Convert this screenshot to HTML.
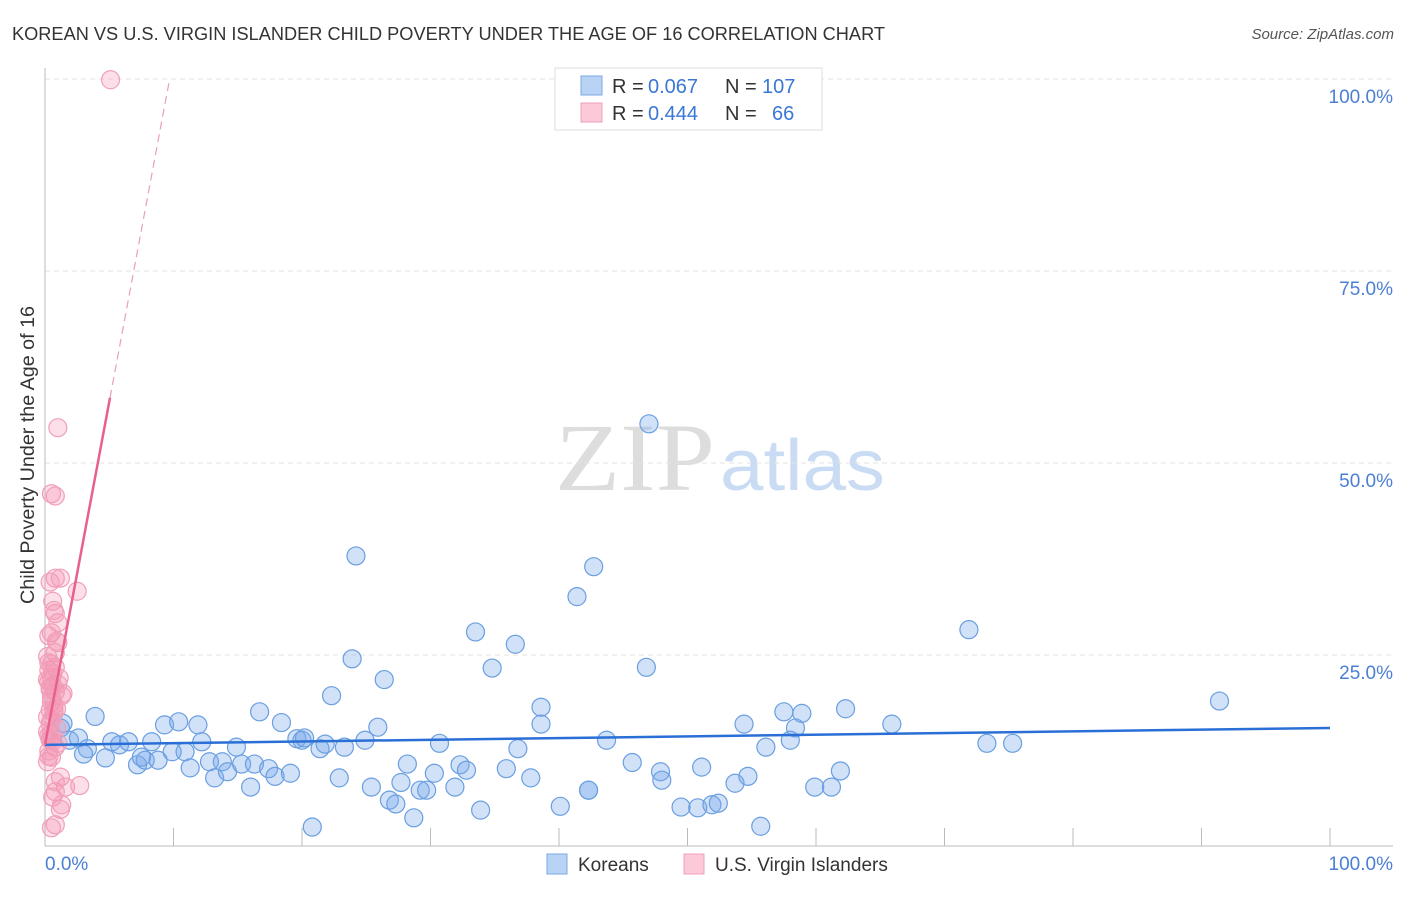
<!DOCTYPE html>
<html><head><meta charset="utf-8"><style>
body{margin:0;background:#fff;font-family:"Liberation Sans",sans-serif}
</style></head><body>
<svg width="1406" height="892" xmlns="http://www.w3.org/2000/svg">
<text x="12" y="40" font-size="18" fill="#333" textLength="873" lengthAdjust="spacingAndGlyphs">KOREAN VS U.S. VIRGIN ISLANDER CHILD POVERTY UNDER THE AGE OF 16 CORRELATION CHART</text>
<text x="1394" y="39" font-size="15" fill="#555" font-style="italic" text-anchor="end">Source: ZipAtlas.com</text>
<text x="555" y="490" font-size="96" fill="#ddd" font-family="Liberation Serif" textLength="160" lengthAdjust="spacingAndGlyphs">ZIP</text>
<text x="720" y="490" font-size="72" fill="#c9dcf3" textLength="165" lengthAdjust="spacingAndGlyphs">atlas</text>
<g id="grid"></g>
<line x1="45" y1="68" x2="45" y2="846" stroke="#bbb"/>
<line x1="45" y1="846" x2="1393" y2="846" stroke="#bbb"/>
<g id="ticks"></g>
<text transform="translate(34,455) rotate(-90)" font-size="19" fill="#333" text-anchor="middle" textLength="298" lengthAdjust="spacingAndGlyphs">Child Poverty Under the Age of 16</text>
<text x="45" y="870" font-size="19" fill="#4a7fd4">0.0%</text>
<text x="1393" y="870" font-size="19" fill="#4a7fd4" text-anchor="end">100.0%</text>
<g id="pts"></g>
<g id="lines"></g>
<g>
<rect x="555" y="68" width="267" height="62" fill="#fff" stroke="#ddd"/>
<rect x="581" y="76" width="21" height="19" fill="#b9d3f5" stroke="#7aa8e6"/>
<rect x="581" y="103" width="21" height="19" fill="#fcc9d8" stroke="#f0a0b8"/>
<text x="612" y="93" font-size="20" fill="#333">R =</text>
<text x="648" y="93" font-size="20" fill="#3a78d4">0.067</text>
<text x="725" y="93" font-size="20" fill="#333">N =</text>
<text x="762" y="93" font-size="20" fill="#3a78d4">107</text>
<text x="612" y="120" font-size="20" fill="#333">R =</text>
<text x="648" y="120" font-size="20" fill="#3a78d4">0.444</text>
<text x="725" y="120" font-size="20" fill="#333">N =</text>
<text x="772" y="120" font-size="20" fill="#3a78d4">66</text>
</g>
<g>
<rect x="547" y="854" width="20" height="20" fill="#b9d3f5" stroke="#7aa8e6"/>
<text x="578" y="871" font-size="19" fill="#333">Koreans</text>
<rect x="684" y="854" width="20" height="20" fill="#fcc9d8" stroke="#f0a0b8"/>
<text x="715" y="871" font-size="19" fill="#333">U.S. Virgin Islanders</text>
</g>
</svg>
<script>
const yTicks=[25,50,75,100];
const yTickLabels=["25.0%","50.0%","75.0%","100.0%"];
const xTicks=[10,20,30,40,50,60,70,80,90,100];
const blueX=[1.4,1.2,1.9,2.6,3.3,3.9,4.7,5.2,5.8,6.5,7.2,7.8,8.3,8.8,9.3,9.9,10.4,10.9,11.3,11.9,12.2,12.8,13.2,13.8,14.2,14.9,15.3,16.0,16.3,16.7,17.4,17.9,18.4,19.1,19.6,20.0,20.2,20.8,21.4,21.8,22.3,22.9,23.3,23.9,24.2,24.9,25.4,25.9,26.4,26.8,27.3,27.7,28.2,28.7,29.2,29.7,30.3,30.7,31.9,32.3,32.8,33.5,33.9,34.8,35.9,36.6,36.8,37.8,38.6,38.6,40.1,41.4,42.3,42.7,43.7,45.7,46.8,47.0,47.9,48.0,49.5,50.8,51.1,51.9,52.4,53.7,54.4,54.7,56.1,57.5,58.0,58.4,58.9,59.9,61.2,61.9,62.3,65.9,71.9,73.3,75.3,91.4,55.7,42.3,0.4,3.0,7.5];
const blueY=[16.1,15.5,13.9,14.2,12.8,17.0,11.6,13.7,13.3,13.7,10.7,11.3,13.7,11.3,15.9,12.4,16.3,12.4,10.3,15.9,13.7,11.1,9.0,11.1,9.8,13.0,10.8,7.8,10.8,17.6,10.2,9.2,16.2,9.6,14.1,13.9,14.2,2.6,12.8,13.4,19.7,9.0,13.0,24.5,37.9,13.9,7.8,15.6,21.8,6.1,5.6,8.4,10.8,3.8,7.4,7.4,9.6,13.5,7.8,10.7,10.0,28.0,4.8,23.3,10.2,26.4,12.8,9.0,18.2,16.0,5.3,32.6,7.4,36.5,13.9,11.0,23.4,55.1,9.8,8.7,5.2,5.1,10.4,5.5,5.7,8.3,16.0,9.2,13.0,17.6,13.9,15.5,17.4,7.8,7.8,9.9,18.0,16.0,28.3,13.5,13.5,19.0,2.7,7.4,14.0,12.1,11.7];
const pinkX=[1.0,0.5,0.8,0.8,1.2,2.5,0.8,1.0,0.5,1.0,0.8,0.8,0.5,0.4,0.8,0.5,0.2,1.3,0.4,0.5,1.0,0.8,0.5,0.2,1.2,1.6,0.8,1.3,1.2,0.8,2.7,5.1,0.6,0.3,0.3,0.6,0.9,0.2,0.4,0.7,1.1,0.3,0.5,0.9,0.3,0.6,0.2,0.4,0.7,0.5,0.3,1.0,0.6,0.4,0.2,0.9,0.7,0.3,0.5,0.8,0.4,0.6,1.4,0.3,0.7,0.5];
const pinkY=[54.6,46.0,45.7,35.0,35.0,33.3,30.4,29.2,27.9,26.6,25.3,23.4,22.1,20.8,20.2,18.9,16.9,19.7,16.1,14.8,13.5,13.0,11.7,11.1,9.1,7.8,7.2,5.5,4.9,2.9,8.0,99.9,32.0,24.0,21.5,21.0,18.0,15.0,14.0,17.5,22.0,23.0,19.5,15.5,12.5,6.5,21.8,20.5,18.5,16.5,14.5,21.2,13.8,17.8,24.8,26.8,30.8,27.5,2.5,8.5,34.5,22.5,20.0,11.8,18.0,23.8];
const blueLine=[[0,13.3],[100,15.5]];
const pinkSolid=[[0,13.3],[5.06,58.5]];
const pinkDash=[[5.06,58.5],[9.7,100]];
const X=v=>45+v*12.85, Y=v=>847-v*7.68;
const NS="http://www.w3.org/2000/svg";
function mk(t,a,p){const e=document.createElementNS(NS,t);for(const k in a)e.setAttribute(k,a[k]);p.appendChild(e);return e;}
const grid=document.getElementById('grid'),ticks=document.getElementById('ticks'),pts=document.getElementById('pts'),lines=document.getElementById('lines');
yTicks.forEach((t,i)=>{
 const l=mk('line',{x1:45,x2:1393,y1:Y(t),y2:Y(t),stroke:'#e3e3e3','stroke-dasharray':'5,4'},grid);
 
 
 const tx=mk('text',{x:1393,y:Y(t)+24,'font-size':19,fill:'#4a7fd4','text-anchor':'end'},ticks);
 tx.textContent=yTickLabels[i];
 
 
});
xTicks.forEach(t=>{
 const l=mk('line',{x1:X(t),x2:X(t),y1:828,y2:846,stroke:'#bbb'},ticks);
 
 
});
blueX.forEach((v,i)=>{
 const c=mk('circle',{cx:X(v),cy:Y(blueY[i]),r:9,fill:'rgba(120,170,235,0.35)',stroke:'#6a9fe0','stroke-width':1.2},pts);
 
 
});
pinkX.forEach((v,i)=>{
 const c=mk('circle',{cx:X(v),cy:Y(pinkY[i]),r:9,fill:'rgba(245,150,180,0.3)',stroke:'#f0a0b8','stroke-width':1.2},pts);
 
 
});
function ln(d,col,w,dash,name){
 const l=mk('line',{x1:X(d[0][0]),y1:Y(d[0][1]),x2:X(d[1][0]),y2:Y(d[1][1]),stroke:col,'stroke-width':w},lines);
 if(dash)l.setAttribute('stroke-dasharray',dash);
 
 
}
ln(blueLine,'#2a6fd6',2.5,null,'korean-trend-line');
ln(pinkSolid,'#e8608e',2.5,null,'virgin-islander-trend-line');
ln(pinkDash,'#e8a0b8',1.2,'8,5','virgin-islander-trend-extension');
</script>
</body></html>
